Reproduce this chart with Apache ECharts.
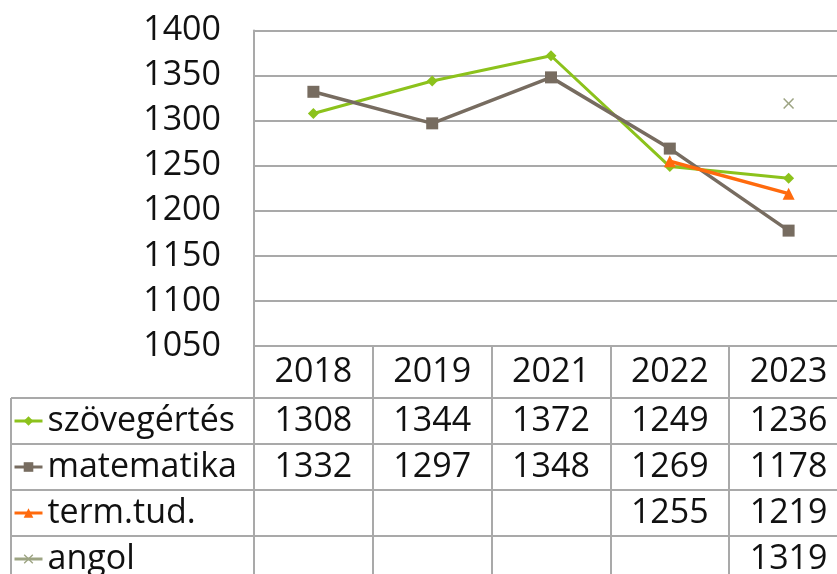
<!DOCTYPE html>
<html>
<head>
<meta charset="utf-8">
<script src="https://cdn.jsdelivr.net/npm/echarts@6/dist/echarts.min.js"></script>
<style>
html,body{margin:0;padding:0;background:#fff}
#main{width:837px;height:574px}
</style>
</head>
<body>
<div id="main"></div>
<script>
// adatok
var years = ['2018', '2019', '2021', '2022', '2023'];
var szoveg = [1308, 1344, 1372, 1249, 1236];
var matek = [1332, 1297, 1348, 1269, 1178];
var term = [null, null, null, 1255, 1219];
var angol = [null, null, null, null, 1319];
var names = ['szövegértés', 'matematika', 'term.tud.', 'angol'];
var yMin = 1050, yMax = 1400, yStep = 50;

var font = '"Open Sans", sans-serif';
var fs = 34;
var gridColor = '#a9a9a9';
var colors = ['#8cc21c', '#776c60', '#ff6a0d', '#9da483'];
var crossPath = 'path://M1,0L5,4L9,0L10,1L6,5L10,9L9,10L5,6L1,10L0,9L4,5L0,1Z';

var rowTop = 398, rowH = 46;   // tablazat sorai

var myChart = echarts.init(document.getElementById('main'));

function line(name, data, color, symbol, size, width) {
    return {
        name: name,
        type: 'line',
        data: data,
        symbol: symbol,
        symbolSize: size,
        connectNulls: false,
        lineStyle: { color: color, width: width },
        itemStyle: { color: color },
        emphasis: { disabled: true }
    };
}

var option = {
    animation: false,
    grid: {
        left: 254, top: 30.5, width: 594, bottom: 228,
        containLabel: false,
        outerBoundsMode: 'none'
    },
    legend: {
        orient: 'vertical',
        left: 13,
        top: rowTop,
        height: 400,
        padding: 0,
        itemGap: 0,
        itemWidth: 28,
        itemHeight: 12,
        selectedMode: false,
        lineStyle: { width: 3 },
        textStyle: { fontFamily: font, fontSize: fs, color: '#111', lineHeight: rowH },
        data: names
    },
    xAxis: {
        type: 'category',
        data: years,
        boundaryGap: true,
        axisLine: { lineStyle: { color: gridColor, width: 2 } },
        axisTick: { show: true, length: 228, lineStyle: { color: gridColor, width: 2 } },
        axisLabel: {
            margin: 26,
            verticalAlign: 'middle',
            fontFamily: font,
            fontSize: fs,
            color: '#111'
        },
        splitLine: { show: false }
    },
    yAxis: {
        type: 'value',
        min: yMin,
        max: yMax,
        interval: yStep,
        axisLine: { show: true, lineStyle: { color: gridColor, width: 2 } },
        axisTick: { show: false },
        axisLabel: {
            margin: 33,
            fontFamily: font,
            fontSize: fs,
            color: '#111',
            formatter: function (v) { return String(v); }
        },
        splitLine: { lineStyle: { color: gridColor, width: 2 } }
    },
    series: [
        line(names[0], szoveg, colors[0], 'diamond', 11, 3),
        line(names[1], matek, colors[1], 'rect', 12, 3.5),
        line(names[2], term, colors[2], 'triangle', 12, 3.5),
        line(names[3], angol, colors[3], crossPath, 11, 3)
    ]
};
myChart.setOption(option);

// tablazat: vonalak es ertekek
var rows = [szoveg, matek, term, angol];
var g = [];
for (var r = 0; r < 4; r++) {
    g.push({
        type: 'line',
        shape: { x1: 11, y1: rowTop + r * rowH, x2: 837, y2: rowTop + r * rowH },
        style: { stroke: gridColor, lineWidth: 2 },
        silent: true
    });
}
g.push({
    type: 'line',
    shape: { x1: 11, y1: rowTop, x2: 11, y2: 574 },
    style: { stroke: gridColor, lineWidth: 2 },
    silent: true
});
rows.forEach(function (vals, r) {
    vals.forEach(function (v, i) {
        if (v == null) return;
        var x = myChart.convertToPixel({ xAxisIndex: 0 }, i);
        g.push({
            type: 'text',
            x: x,
            y: rowTop + r * rowH + rowH / 2,
            silent: true,
            style: {
                text: String(v),
                align: 'center',
                verticalAlign: 'middle',
                fontFamily: font,
                fontSize: fs,
                fill: '#111'
            }
        });
    });
});
myChart.setOption({ graphic: g });
window.onresize = myChart.resize;
</script>
</body>
</html>
